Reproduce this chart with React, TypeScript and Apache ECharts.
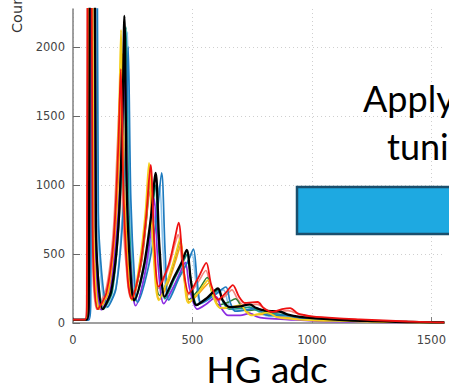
import React, { useEffect, useRef } from 'react';
import * as echarts from 'echarts';

const xTicks = [0, 500, 1000, 1500];
const yTicks = [0, 500, 1000, 1500, 2000];
const xMax = 1554;
const yMax = 2275;

const lightBluePts = [[0,22],[64,22],[72,150],[88,9000],[102,800],[140,110],[180,260],[210,900],[221,1600],[228,2110],[239,900],[255,300],[268,160],[310,420],[342,760],[362,1000],[378,500],[398,170],[440,320],[476,430],[498,500],[515,290],[535,140],[585,190],[630,240],[650,140],[675,90],[720,95],[760,100],[790,65],[820,50],[900,45],[1000,22],[1200,11],[1400,5],[1554,3]];
const salmonPts = [[0,22],[50,22],[57,150],[66,9000],[80,700],[100,100],[140,260],[168,650],[186,1300],[196,1667],[208,800],[228,300],[243,180],[285,420],[305,700],[320,950],[336,550],[358,250],[400,400],[425,560],[440,640],[460,380],[483,205],[525,300],[556,380],[576,260],[605,160],[640,200],[665,240],[690,170],[715,130],[770,135],[835,75],[900,90],[960,55],[1100,30],[1300,15],[1554,4]];
const darkGreenPts = [[0,22],[54,22],[62,150],[70,9000],[84,700],[106,100],[145,240],[175,700],[193,1450],[203,1800],[214,850],[233,300],[248,170],[285,430],[308,760],[323,1050],[339,520],[362,200],[405,340],[432,500],[448,600],[465,340],[485,170],[530,250],[562,330],[582,220],[610,130],[650,150],[680,175],[705,120],[730,90],[780,100],[830,60],[900,55],[1000,30],[1200,14],[1400,6],[1554,3]];
const orangePts = [[0,22],[58,22],[66,150],[78,9000],[92,700],[112,100],[150,230],[180,700],[198,1450],[206,1950],[218,850],[236,300],[250,170],[285,440],[308,780],[322,1060],[338,520],[362,170],[405,320],[433,470],[452,570],[468,320],[488,150],[530,220],[570,290],[590,190],[620,105],[665,110],[705,120],[730,80],[760,60],[820,65],[860,45],[950,30],[1100,16],[1300,8],[1554,3]];
const tealPts = [[0,22],[60,22],[68,150],[82,9000],[96,700],[128,100],[165,230],[195,800],[214,1600],[222,2145],[233,900],[248,300],[258,160],[298,400],[328,720],[345,1000],[360,500],[385,175],[425,320],[458,430],[478,500],[496,280],[520,130],[565,180],[610,240],[628,150],[655,100],[700,105],[740,115],[770,90],[800,75],[860,65],[950,40],[1050,25],[1200,14],[1400,7],[1554,4]];
const purplePts = [[0,22],[60,22],[68,150],[78,9000],[92,700],[118,95],[155,220],[190,800],[210,1500],[218,1855],[229,800],[248,250],[262,125],[300,350],[325,650],[340,900],[355,450],[380,140],[420,260],[452,380],[470,440],[488,250],[520,100],[560,140],[600,190],[620,110],[650,55],[700,55],[740,70],[770,45],[800,35],[900,25],[1000,15],[1100,10],[1300,5],[1554,2]];
const bluePts = [[0,22],[66,22],[74,150],[92,9000],[106,800],[145,115],[180,250],[210,800],[224,1500],[231,2000],[242,900],[258,300],[270,150],[315,400],[350,760],[371,1087],[386,500],[401,165],[445,330],[482,450],[504,536],[520,300],[537,145],[590,200],[640,261],[658,150],[680,85],[730,95],[770,110],[795,70],[820,55],[870,55],[900,55],[950,35],[1000,25],[1100,17],[1200,12],[1300,8],[1400,5],[1554,3]];
const yellowPts = [[0,22],[52,22],[60,150],[72,9000],[86,700],[108,105],[145,230],[175,700],[192,1500],[201,2123],[213,900],[232,300],[247,165],[280,450],[303,800],[318,1160],[335,550],[359,165],[400,330],[430,500],[449,614],[465,330],[483,145],[525,220],[566,311],[585,200],[615,110],[660,115],[702,130],[725,80],[750,55],[790,70],[814,75],[850,45],[900,32],[1000,20],[1100,15],[1200,11],[1300,7],[1400,5],[1554,2]];
const blackPts = [[0,25],[58,25],[66,150],[80,9000],[96,700],[124,100],[160,230],[190,700],[207,1500],[215,2225],[226,900],[243,300],[256,165],[295,400],[325,750],[346,1087],[362,550],[384,190],[420,320],[455,440],[476,529],[494,300],[516,130],[560,180],[607,250],[625,170],[655,115],[700,120],[740,135],[765,110],[790,95],[830,85],[860,85],[900,60],[950,45],[1050,30],[1150,20],[1250,14],[1350,9],[1450,6],[1554,4]];
const redPts = [[0,25],[50,25],[58,150],[68,9000],[82,700],[103,100],[140,220],[170,600],[190,1300],[200,1840],[212,900],[230,300],[245,175],[280,400],[305,750],[325,1145],[340,600],[359,263],[400,420],[425,600],[442,727],[462,400],[485,215],[525,330],[558,435],[578,280],[607,170],[640,220],[669,275],[695,190],[719,145],[750,150],[773,152],[800,105],[835,80],[875,100],[909,108],[940,70],[967,58],[1000,48],[1100,35],[1200,26],[1300,18],[1400,11],[1500,6],[1554,4]];

const seriesList = [
  { name: 'ch-lightblue', color: '#8cc4ec', data: lightBluePts, w: 1.6 },
  { name: 'ch-salmon', color: '#f4877d', data: salmonPts, w: 1.6 },
  { name: 'ch-darkgreen', color: '#2e7d32', data: darkGreenPts, w: 1.5 },
  { name: 'ch-orange', color: '#f7a21b', data: orangePts, w: 1.6 },
  { name: 'ch-teal', color: '#159a86', data: tealPts, w: 1.6 },
  { name: 'ch-purple', color: '#8b2be2', data: purplePts, w: 1.7 },
  { name: 'ch-blue', color: '#1e7bbf', data: bluePts, w: 1.7 },
  { name: 'ch-yellow', color: '#f4cf1c', data: yellowPts, w: 1.8 },
  { name: 'ch-black', color: '#000000', data: blackPts, w: 2.3 },
  { name: 'ch-red', color: '#ee1111', data: redPts, w: 1.8 },
];

export default function App() {
  const ref = useRef<HTMLDivElement>(null);
  useEffect(() => {
    document.body.style.margin = '0';
    const chart = echarts.init(ref.current!, null, { renderer: 'svg' });
    chart.setOption({
      animation: false,
      backgroundColor: '#ffffff',
      grid: { left: 73, top: 9, right: 0, bottom: 63, containLabel: false },
      xAxis: {
        type: 'value', min: 0, max: xMax, interval: 500,
        axisLine: { show: true, onZero: false, lineStyle: { color: '#808080', width: 1.5 } },
        axisTick: { show: true, inside: true, length: 6, lineStyle: { color: '#808080' } },
        axisLabel: {
          margin: 11, color: '#444', fontSize: 11.5, fontFamily: 'DejaVu Sans',
          showMaxLabel: false,
          formatter: (v: number) => (xTicks.includes(v) ? String(v) : ''),
        },
        splitLine: { show: true, showMaxLine: false, lineStyle: { color: '#cfcfcf', type: [1, 3], width: 1 } },
      },
      yAxis: {
        type: 'value', min: 0, max: yMax, interval: 500,
        axisLine: { show: true, lineStyle: { color: '#808080', width: 1.5 } },
        axisTick: { show: true, inside: true, length: 7, lineStyle: { color: '#666' } },
        axisLabel: {
          margin: 8, color: '#444', fontSize: 11.5, fontFamily: 'DejaVu Sans',
          showMaxLabel: false,
          formatter: (v: number) => (yTicks.includes(v) ? String(v) : ''),
        },
        splitLine: { show: true, showMaxLine: false, showMinLine: false, lineStyle: { color: '#cfcfcf', type: [1, 3], width: 1 } },
      },
      series: seriesList.map((s) => ({
        name: s.name,
        type: 'line',
        data: s.data,
        symbol: 'none',
        clip: true,
        smooth: 0.3,
        lineStyle: { color: s.color, width: s.w },
        itemStyle: { color: s.color },
      })),
      graphic: [
        {
          type: 'text', x: 17, y: 33, rotation: Math.PI / 2,
          style: { text: 'Counts', fontSize: 14.5, fontFamily: 'DejaVu Sans', fill: '#333', align: 'left', verticalAlign: 'middle' },
        },
        {
          type: 'rect', z: 100,
          shape: { x: 297, y: 187, width: 170, height: 47 },
          style: { fill: '#1ea9e1', stroke: '#1b4f6d', lineWidth: 2.5 },
        },
        {
          type: 'text', x: 363, y: 98, z: 100,
          style: { text: 'Apply', fontSize: 36, fontFamily: 'Lato', fill: '#000', align: 'left', verticalAlign: 'middle' },
        },
        {
          type: 'text', x: 387, y: 146, z: 100,
          style: { text: 'tuning', fontSize: 36, fontFamily: 'Lato', fill: '#000', align: 'left', verticalAlign: 'middle' },
        },
        {
          type: 'text', x: 267, y: 368, z: 100,
          style: { text: 'HG adc', fontSize: 37, fontFamily: 'Lato', fill: '#000', align: 'center', verticalAlign: 'middle' },
        },
      ],
    });
    return () => chart.dispose();
  }, []);
  return <div ref={ref} style={{ width: 449, height: 386, position: 'absolute', left: 0, top: 0 }} />;
}
